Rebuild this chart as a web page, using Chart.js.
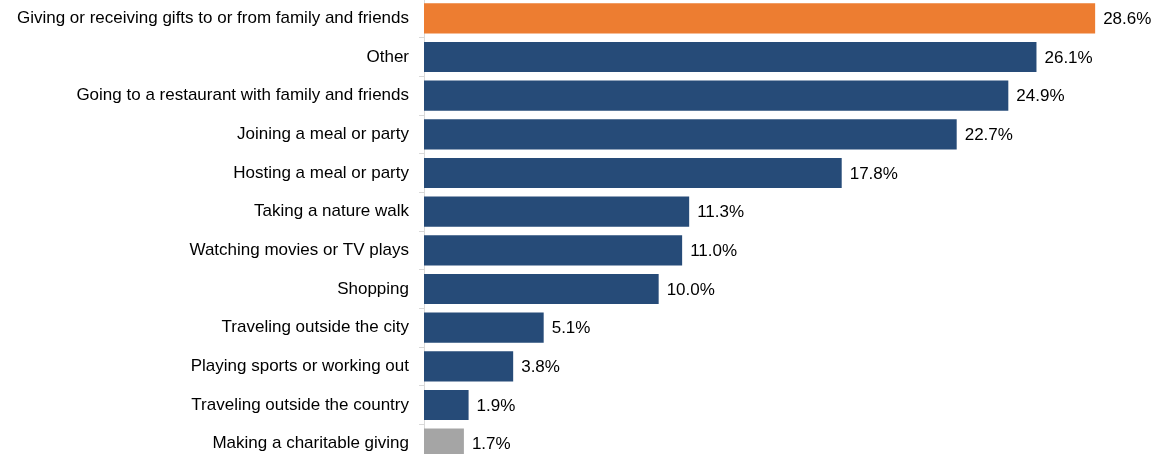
<!DOCTYPE html>
<html>
<head>
<meta charset="utf-8">
<script src="https://cdn.jsdelivr.net/npm/chart.js@4/dist/chart.umd.min.js"></script>
<style>
  html, body { margin: 0; padding: 0; background: #fff; overflow: hidden; }
  #wrap { position: absolute; left: 0; top: -1px; width: 1155px; height: 464px; }
</style>
</head>
<body>
<div id="wrap"><canvas id="chart"></canvas></div>
<script>
const categories = [
  'Giving or receiving gifts to or from family and friends',
  'Other',
  'Going to a restaurant with family and friends',
  'Joining a meal or party',
  'Hosting a meal or party',
  'Taking a nature walk',
  'Watching movies or TV plays',
  'Shopping',
  'Traveling outside the city',
  'Playing sports or working out',
  'Traveling outside the country',
  'Making a charitable giving'
]
const shares = [28.6, 26.1, 24.9, 22.7, 17.8, 11.3, 11.0, 10.0, 5.1, 3.8, 1.9, 1.7]
const barColors = [
  '#ED7D31', '#264B78', '#264B78', '#264B78', '#264B78', '#264B78',
  '#264B78', '#264B78', '#264B78', '#264B78', '#264B78', '#A5A5A5'
]

const FONT = '"Liberation Sans", Arial, sans-serif'

// value labels at the end of each bar
const valueLabels = {
  id: 'valueLabels',
  afterDatasetsDraw(chart) {
    const ctx = chart.ctx
    const meta = chart.getDatasetMeta(0)
    ctx.save()
    ctx.font = '17px ' + FONT
    ctx.fillStyle = '#000'
    ctx.textBaseline = 'middle'
    ctx.textAlign = 'left'
    meta.data.forEach((bar, i) => {
      ctx.fillText(shares[i].toFixed(1) + '%', bar.x + 8, bar.y + 1)
    })
    ctx.restore()
  }
}

new Chart(document.getElementById('chart'), {
  type: 'bar',
  data: {
    labels: categories,
    datasets: [{
      data: shares,
      backgroundColor: barColors,
      barPercentage: 0.78,
      categoryPercentage: 1
    }]
  },
  options: {
    indexAxis: 'y',
    responsive: true,
    maintainAspectRatio: false,
    animation: false,
    layout: { padding: { left: 0, right: 27, top: 0, bottom: 0 } },
    plugins: {
      legend: { display: false },
      tooltip: { enabled: false }
    },
    scales: {
      x: {
        display: false,
        min: 0,
        max: 30
      },
      y: {
        afterFit(scale) {
          scale.width = 424
          scale.paddingTop = 0
          scale.paddingBottom = 0
        },
        border: { display: true, color: '#D9D9D9', width: 1 },
        grid: {
          drawOnChartArea: false,
          drawTicks: true,
          tickLength: 5,
          color: '#D9D9D9'
        },
        ticks: {
          color: '#000',
          padding: 10,
          font: { family: FONT, size: 17 }
        }
      }
    }
  },
  plugins: [valueLabels]
})
</script>
</body>
</html>
